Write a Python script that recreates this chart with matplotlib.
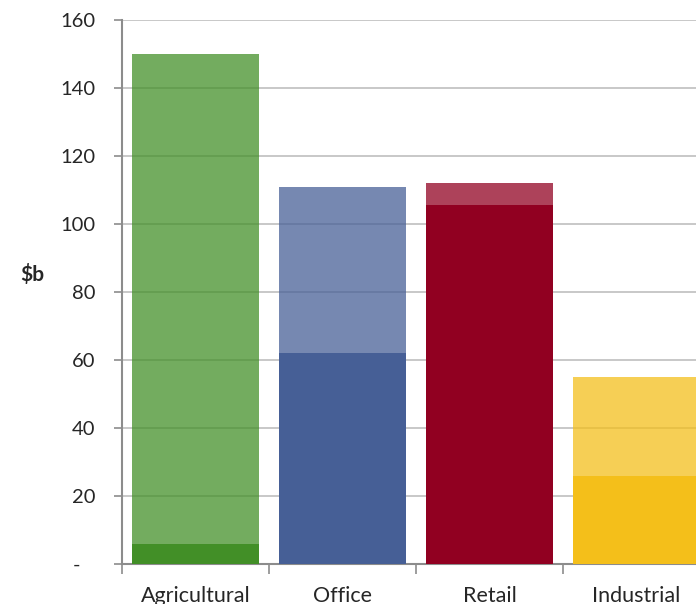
import numpy as np
import matplotlib
matplotlib.use("Agg")
import matplotlib.pyplot as plt

categories = ["Agricultural", "Office", "Retail", "Industrial"]
total_values = [150, 111, 112, 55]
base_values = [6, 62, 105.5, 26]
colors = ["#428F27", "#465F96", "#910021", "#F4BF1A"]
ytick_labels = ["-   ", "20", "40", "60", "80", "100", "120", "140", "160"]

plt.rcParams['font.family'] = ['Lato', 'DejaVu Sans']

fig = plt.figure(figsize=(6.96, 6.04), dpi=100)
ax = fig.add_axes([122 / 696, 40 / 604, 588 / 696, 544 / 604])

x = np.arange(len(categories))
# lighter full bar, darker part drawn on top
ax.bar(x, total_values, width=0.87, color=colors, alpha=0.74, zorder=2, linewidth=0)
ax.bar(x, base_values, width=0.87, color=colors, zorder=3, linewidth=0)

ax.set_xlim(-0.5, len(categories) - 0.5)
ax.set_ylim(0, 160)
ax.set_yticks(np.arange(0, 161, 20))
ax.set_yticklabels(ytick_labels)
ax.yaxis.grid(True, color="#C4C4C4", linewidth=1.3, zorder=1)
ax.set_axisbelow(True)

ax.set_xticks(x)
ax.set_xticklabels(categories)
ax.set_xticks(np.arange(-0.5, len(categories), 1), minor=True)
ax.tick_params(axis='x', which='major', length=0, pad=16, labelsize=15.5, colors="#262626")
ax.tick_params(axis='x', which='minor', length=7, width=1.2, color="#8C8C8C")
ax.tick_params(axis='y', length=6, width=1.2, color="#8C8C8C", pad=13, labelsize=14.5,
               labelcolor="#262626")

for s in ["top", "right"]:
    ax.spines[s].set_visible(False)
for s in ["left", "bottom"]:
    ax.spines[s].set_color("#8C8C8C")
    ax.spines[s].set_linewidth(1.5)

fig.text(32 / 696, 1 - 275 / 604, "\\$b", fontsize=15, fontweight="bold",
         ha="center", va="center", color="#262626")

fig.savefig("out.png", dpi=100)
